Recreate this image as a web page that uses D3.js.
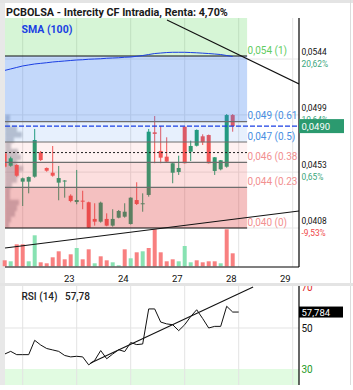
<!DOCTYPE html>
<html><head><meta charset="utf-8">
<script src="https://cdn.jsdelivr.net/npm/d3@7"></script>
<style>html,body{margin:0;padding:0;background:#fff}svg{display:block;font-family:Roboto,"Noto Sans",sans-serif}</style>
</head><body><svg id="c" width="353" height="390"></svg>
<script>
const title = "PCBOLSA - Intercity CF Intradia, Renta: 4,70%";
const openP = [0.04681,0.04581,0.04587,0.04453,0.04453,0.04493,0.04689,0.04563,0.04525,0.04445,
0.04454,0.04340,0.04289,0.04300,0.04287,0.04153,0.04131,0.04153,0.04099,0.04163,
0.04171,0.04112,0.04305,0.04276,0.04346,0.04850,0.04700,0.04654,0.04525,0.04531,
0.04895,0.04694,0.04742,0.04818,0.04828,0.04539,0.04552,0.04573,0.04989];
const highP = [0.04692,0.04654,0.04593,0.04486,0.04494,0.04877,0.04700,0.04567,0.04740,0.04579,
0.04466,0.04351,0.04547,0.04380,0.04292,0.04279,0.04292,0.04198,0.04231,0.04225,
0.04279,0.04327,0.04448,0.04359,0.04877,0.04981,0.04901,0.04810,0.04603,0.04662,
0.04897,0.04783,0.04873,0.04834,0.04832,0.04651,0.04627,0.04997,0.04997];
const lowP = [0.04563,0.04573,0.04493,0.04257,0.04359,0.04485,0.04619,0.04533,0.04493,0.04303,
0.04324,0.04287,0.04271,0.04231,0.04076,0.04099,0.04123,0.04094,0.04091,0.04158,
0.04163,0.04108,0.04265,0.04211,0.04332,0.04601,0.04601,0.04611,0.04440,0.04507,
0.04599,0.04619,0.04736,0.04748,0.04599,0.04507,0.04544,0.04565,0.04855];
const closeP = [0.04573,0.04641,0.04501,0.04480,0.04490,0.04788,0.04627,0.04541,0.04501,0.04482,
0.04462,0.04297,0.04305,0.04295,0.04083,0.04131,0.04284,0.04099,0.04153,0.04217,
0.04211,0.04324,0.04273,0.04279,0.04855,0.04837,0.04646,0.04614,0.04601,0.04563,
0.04601,0.04740,0.04869,0.04770,0.04601,0.04649,0.04625,0.04989,0.04900];
const volume = [60,50,220,220,50,310,40,30,90,150,70,120,183,70,170,30,100,60,40,10,
170,80,140,150,183,370,140,50,70,50,203,40,60,40,50,50,30,370,130];
const volDir = "dudduudddddduddudduudududdddduuuddddud";
const sma100 = [0.05348,0.05360,0.05372,0.05384,0.05392,0.05400,0.05405,0.05410,0.05416,0.05420,
0.05424,0.05428,0.05432,0.05434,0.05438,0.05440,0.05442,0.05446,0.05448,0.05450,
0.05454,0.05456,0.05462,0.05468,0.05476,0.05484,0.05488,0.05492,0.05494,0.05494,
0.05494,0.05492,0.05490,0.05487,0.05484,0.05480,0.05476,0.05468,0.05460];
const rsi14 = [37.3,38.6,37.0,37.0,37.0,44.0,41.7,40.0,39.3,38.6,
36.6,35.9,36.2,35.9,32.0,34.2,39.0,35.0,37.3,39.4,
38.5,42.9,41.9,42.2,59.3,59.3,52.9,52.0,51.6,48.7,
51.6,55.6,58.9,54.6,50.0,50.8,50.8,60.6,57.78,57.78];
const dayGridIdx = [3,12,21,30,39,48];
const dayLabels = ["","23","24","27","28","29"];
const priceTicks = [0.0544,0.0499,0.0453,0.0408];
const priceTickLabels = ["0,0544","0,0499","0,0453","0,0408"];
const pctLabels = ["20,62%","10,64%","0,65%","-9,53%"];
const fibHigh = 0.05464, fibLow = 0.0408, fibEndIdx = 40.4;
const fibLevels = [1,0.618,0.5,0.382,0.236,0];
const fibLevelNames = ["1","0.618","0.5","0.382","0.236","0"];
const lastPrice = 0.0490, lastPriceLabel = "0,0490";
const refPrice = 0.04687;
const rsiTicks = [70,50,30];
const rsiLast = 57.784, rsiLastLabel = "57,784", rsiTitle = "RSI (14)", rsiTitleVal = "57,78";
const smaTitle = "SMA (100)";
const trendPrice1 = [[27.05,0.05754],[49.05,0.05239]];
const trendPrice2 = [[0.05,0.03919],[49.05,0.04217]];
const trendRsi = [[14.33,32.9],[41.4,70]];
const vpLow = 0.0408, vpHigh = 0.0499;
const vpVol = [40,60,100,120,140,50,50,70,120,140,180,120,160,130,60,90,170,120,40,50];

const svg = d3.select("#c");
const L = 5, R = 299, PT = 18, PB = 228, VB = 266.3, MB = 267, RT = 286, RB = 385;
const x = d3.scaleLinear().domain([0,49]).range([4.7,298.7]);
const y = d3.scaleLinear().domain([0.0408,0.0544]).range([228,59]);
const yv = d3.scaleLinear().domain([0,383]).range([VB,PB]);
const yr = d3.scaleLinear().domain([30,50]).range([369,328]);
const vpw = d3.scaleLinear().domain([0,180]).range([0,18]);

const defs = svg.append("defs");
defs.append("clipPath").attr("id","cp").append("rect").attr("x",L).attr("y",PT).attr("width",R-L).attr("height",PB-PT);
defs.append("clipPath").attr("id","cm").append("rect").attr("x",L).attr("y",PT).attr("width",R-L).attr("height",MB-PT);
defs.append("clipPath").attr("id","cr").append("rect").attr("x",L).attr("y",RT).attr("width",R-L).attr("height",RB-RT);
defs.append("clipPath").attr("id","cl").append("rect").attr("x",L).attr("y",0).attr("width",R-L).attr("height",390);
defs.append("filter").attr("id","bl").append("feGaussianBlur").attr("stdDeviation",0.8);

// frame
svg.append("rect").attr("x",0).attr("y",0).attr("width",353).attr("height",390).attr("fill","#fff");
svg.append("rect").attr("x",0).attr("y",0).attr("width",L).attr("height",390).attr("fill","#e8e8e8");
svg.append("rect").attr("x",0).attr("y",0).attr("width",353).attr("height",3).attr("fill","#e4e4e4");
svg.append("line").attr("x1",350.5).attr("x2",350.5).attr("y1",0).attr("y2",390).attr("stroke","#dcdcdc");

// grid main
const gm = svg.append("g");
gm.selectAll("line.v").data(dayGridIdx).join("line")
  .attr("x1",d=>x(d)).attr("x2",d=>x(d)).attr("y1",PT).attr("y2",MB).attr("stroke","#e3e3e3");
gm.selectAll("line.h").data(priceTicks).join("line").attr("class","h")
  .attr("x1",L).attr("x2",R).attr("y1",d=>y(d)).attr("y2",d=>y(d)).attr("stroke","#e6e6e6");

// volume profile
const vpStep = (vpHigh-vpLow)/vpVol.length;
svg.append("g").attr("clip-path","url(#cp)").attr("filter","url(#bl)")
  .selectAll("rect").data(vpVol).join("rect")
  .attr("x",L).attr("width",d=>vpw(d))
  .attr("y",(d,i)=>y(vpLow+(i+1)*vpStep)).attr("height",(d,i)=>y(vpLow+i*vpStep)-y(vpLow+(i+1)*vpStep))
  .attr("fill","rgba(115,120,135,0.42)");

// candles
const idx = d3.range(openP.length);
const up = "#1f9f72", dn = "#f25555";
const gc = svg.append("g").attr("clip-path","url(#cp)");
gc.selectAll("line").data(idx).join("line")
  .attr("x1",i=>x(i)).attr("x2",i=>x(i)).attr("y1",i=>y(highP[i])).attr("y2",i=>y(lowP[i]))
  .attr("stroke",i=>closeP[i]>=openP[i]?up:dn).attr("stroke-width",1);
gc.selectAll("rect").data(idx).join("rect")
  .attr("x",i=>x(i)-2).attr("width",4)
  .attr("y",i=>y(Math.max(openP[i],closeP[i])))
  .attr("height",i=>Math.max(1,Math.abs(y(openP[i])-y(closeP[i]))))
  .attr("fill",i=>closeP[i]>=openP[i]?up:dn);

// fib zones overlay
const fibP = fibLevels.map(l=>fibLow+l*(fibHigh-fibLow));
const fx1 = L, fx2 = x(fibEndIdx);
const zoneFill = ["rgba(60,130,240,0.31)","rgba(60,130,240,0.12)","rgba(240,80,80,0.08)","rgba(240,80,80,0.18)","rgba(220,60,60,0.32)"];
const gz = svg.append("g").attr("clip-path","url(#cp)");
gz.append("rect").attr("x",fx1).attr("width",fx2-fx1).attr("y",PT).attr("height",y(fibP[0])-PT).attr("fill","rgba(70,210,70,0.22)");
gz.selectAll("rect.z").data(d3.range(5)).join("rect").attr("class","z")
  .attr("x",fx1).attr("width",fx2-fx1).attr("y",k=>y(fibP[k])).attr("height",k=>y(fibP[k+1])-y(fibP[k]))
  .attr("fill",k=>zoneFill[k]);
svg.append("g").selectAll("line").data(fibP).join("line")
  .attr("x1",fx1).attr("x2",fx2).attr("y1",d=>y(d)).attr("y2",d=>y(d))
  .attr("stroke",(d,k)=>(k===0||k===5)?"#111":"#6e6e6e").attr("stroke-width",1.2);
// previous reference dotted line
svg.append("line").attr("x1",L).attr("x2",fx2).attr("y1",y(refPrice)).attr("y2",y(refPrice))
  .attr("stroke","#222").attr("stroke-dasharray","2,2").attr("stroke-width",1);
// SMA
svg.append("path").datum(sma100).attr("clip-path","url(#cp)")
  .attr("d",d3.line().x((d,i)=>x(i)).y(d=>y(d)))
  .attr("fill","none").attr("stroke","#1b3fe3").attr("stroke-width",1);
// last price dashed line
svg.append("line").attr("x1",L).attr("x2",R).attr("y1",y(lastPrice)).attr("y2",y(lastPrice))
  .attr("stroke","#1b3fe3").attr("stroke-width",1.3).attr("stroke-dasharray","5,2");

// fib labels (cut at the price-axis line, like the original)
const fibCol = ["#62cc62","#4a8fe2","#4a8fe2","#f29090","#f29090","#f29090"];
const fmt3 = v => (Math.floor(v*1000+1e-9)/1000).toFixed(3).replace(".",",");
svg.append("g").attr("clip-path","url(#cl)").selectAll("text").data(fibP).join("text")
  .attr("x",fx2+0.5).attr("y",d=>y(d)-2.5).attr("font-size",10).attr("fill",(d,k)=>fibCol[k])
  .text((d,k)=>`${fmt3(d)} (${fibLevelNames[k]})`)
  .each(function(){
    const el = this, avail = R - (fx2+0.5) + 1.5;
    let s = el.textContent;
    while (s.length > 1 && el.getComputedTextLength() > avail) { s = s.slice(0,-1); el.textContent = s; }
  });

svg.append("text").attr("x",21.5).attr("y",33).attr("font-size",10.5).attr("font-weight","bold")
  .attr("fill","#1b3fe3").text(smaTitle);

// volume bars
svg.append("g").selectAll("rect").data(idx).join("rect")
  .attr("x",i=>x(i)-2).attr("width",4).attr("y",i=>yv(volume[i])).attr("height",i=>VB-yv(volume[i]))
  .attr("fill",i=>volDir[i]==="u"?"#88e2b2":"#f88080");

// trendlines in price space
const tl = d3.line().x(d=>x(d[0])).y(d=>y(d[1]));
const gt = svg.append("g").attr("clip-path","url(#cm)");
[trendPrice1,trendPrice2].forEach(t=>gt.append("path").attr("d",tl(t)).attr("fill","none").attr("stroke","#111").attr("stroke-width",1.1));

// main frame lines
svg.append("line").attr("x1",L).attr("x2",R).attr("y1",MB).attr("y2",MB).attr("stroke","#000").attr("stroke-width",1.2);
svg.append("line").attr("x1",R).attr("x2",R).attr("y1",PT).attr("y2",MB).attr("stroke","#000").attr("stroke-width",1.2);

// title bar
svg.append("rect").attr("x",L).attr("y",3).attr("width",R-L-1).attr("height",PT-3).attr("fill","#fff");
svg.append("text").attr("x",6).attr("y",15.5).attr("font-size",10.8).attr("font-weight","bold").attr("fill","#1a1a1a").text(title);

// price axis labels
const ga = svg.append("g").attr("font-size",8.4);
ga.selectAll("text.p").data(priceTicks).join("text").attr("class","p")
  .attr("x",R+2.5).attr("y",d=>y(d)-3.6).attr("fill","#111").text((d,k)=>priceTickLabels[k]);
ga.selectAll("text.q").data(priceTicks).join("text").attr("class","q")
  .attr("x",R+2.5).attr("y",d=>y(d)+8.2).attr("fill",(d,k)=>pctLabels[k].startsWith("-")?"#f04646":"#3aa67c")
  .text((d,k)=>pctLabels[k]);
svg.append("rect").attr("x",R).attr("y",y(lastPrice)-7).attr("width",45).attr("height",14).attr("fill","#2b9a6f");
svg.append("text").attr("x",R+2.5).attr("y",y(lastPrice)+3.5).attr("font-size",9.5).attr("fill","#fff").text(lastPriceLabel);

// x axis labels
svg.append("g").selectAll("text").data(dayGridIdx).join("text")
  .attr("x",d=>x(d)-2).attr("y",281.5).attr("text-anchor","end").attr("font-size",9.5).attr("fill","#111")
  .text((d,k)=>dayLabels[k]);

// RSI panel
const gr = svg.append("g");
gr.append("rect").attr("x",L).attr("y",yr(30)).attr("width",R-L).attr("height",RB-yr(30)).attr("fill","#e1fbe1");
gr.selectAll("line.v").data(dayGridIdx).join("line")
  .attr("x1",d=>x(d)).attr("x2",d=>x(d)).attr("y1",RT).attr("y2",RB).attr("stroke","#e3e3e3");
gr.append("line").attr("x1",L).attr("x2",R).attr("y1",yr(50)).attr("y2",yr(50)).attr("stroke","#e3e3e3");
gr.append("path").datum(rsi14).attr("clip-path","url(#cr)")
  .attr("d",d3.line().x((d,i)=>x(i)).y(d=>yr(d))).attr("fill","none").attr("stroke","#111").attr("stroke-width",1);
gr.append("path").attr("clip-path","url(#cr)").attr("d",d3.line().x(d=>x(d[0])).y(d=>yr(d[1]))(trendRsi))
  .attr("fill","none").attr("stroke","#111").attr("stroke-width",1.1);
const rcol = {70:"#e02828",50:"#111",30:"#1f9a1f"};
gr.selectAll("text.t").data(rsiTicks).join("text").attr("class","t")
  .attr("x",R+2.5).attr("y",d=>yr(d)+4).attr("font-size",10).attr("fill",d=>rcol[d]).text(d=>d);
// separator
svg.append("rect").attr("x",0).attr("y",283).attr("width",353).attr("height",RT-283).attr("fill","#e4e4e4");
svg.append("rect").attr("x",0).attr("y",RB).attr("width",353).attr("height",390-RB).attr("fill","#fff");
svg.append("line").attr("x1",R).attr("x2",R).attr("y1",RT).attr("y2",RB).attr("stroke","#000").attr("stroke-width",1.2);
svg.append("rect").attr("x",R).attr("y",yr(rsiLast)-5.5).attr("width",44).attr("height",11).attr("fill","#000");
svg.append("text").attr("x",R+2.5).attr("y",yr(rsiLast)+3.5).attr("font-size",9.5).attr("fill","#fff").text(rsiLastLabel);
svg.append("text").attr("x",21.5).attr("y",300).attr("font-size",10).attr("font-weight",500).attr("fill","#222")
  .attr("xml:space","preserve").text(rsiTitle + "   " + rsiTitleVal);
</script></body></html>
